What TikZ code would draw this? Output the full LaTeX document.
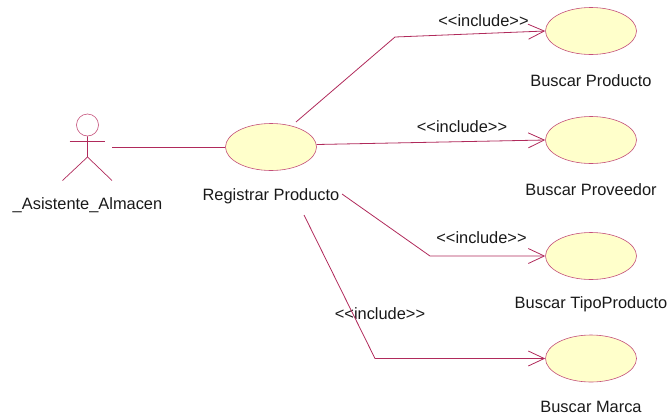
\documentclass[tikz,border=0pt]{standalone}
\usepackage{fontspec}
\setmainfont{Liberation Sans}
\usetikzlibrary{shapes.geometric,arrows.meta}
\definecolor{umlline}{HTML}{B02A5B}
\definecolor{umledge}{HTML}{C4507A}
\definecolor{umlfill}{HTML}{FFFFCB}
\tikzset{
  usecase/.style={ellipse,draw=umledge,fill=umlfill,line width=0.6pt,minimum width=91pt,minimum height=47pt,inner sep=0pt},
  lbl/.style={inner sep=0pt,font=\fontsize{16.4}{18}\selectfont,text=black!90},
  conn/.style={draw=umlline,line width=0.8pt},
  incl/.style={conn,-{Straight Barb[length=16pt,width=15pt,line width=0.8pt]}},
  actorline/.style={draw=umlline,line width=0.7pt}
}
\begin{document}
\begin{tikzpicture}[x=1pt,y=-1pt]
\useasboundingbox (0,0) rectangle (668,418);
\node[usecase] (main) at (271,147) {};
\node[usecase] (u1) at (591,31) {};
\node[usecase] (u2) at (591,140) {};
\node[usecase] (u3) at (591,256) {};
\node[usecase] (u4) at (591,358.5) {};
\node[lbl] (lmain) at (271,196) {Registrar Producto};
\node[lbl] (l1) at (591,81) {Buscar Producto};
\node[lbl] (l2) at (591,190) {Buscar Proveedor};
\node[lbl] (l3) at (591,304) {Buscar TipoProducto};
\node[lbl] (l4) at (591,407) {Buscar Marca};
\node[lbl] (lactor) at (87.5,205) {\_Asistente\_Almacen};
\node[lbl] (i1) at (483.5,21) {<{}<include>{}>};
\node[lbl] (i2) at (462,127) {<{}<include>{}>};
\node[lbl] (i3) at (481.5,238) {<{}<include>{}>};
\node[lbl] (i4) at (380,314) {<{}<include>{}>};
% actor
\node[circle,draw=umledge,line width=0.6pt,minimum size=22pt,inner sep=0pt] (head) at (87.5,125) {};
\coordinate (hip) at (87.5,157);
\coordinate (armL) at (69.5,141.7);
\coordinate (armR) at (105,141.7);
\coordinate (footL) at (62.5,180.5);
\coordinate (footR) at (112,180.5);
\draw[actorline] (head.south) -- (hip) -- (footL);
\draw[actorline] (hip) -- (footR);
\draw[actorline] (armL) -- (armR);
% connectors
\coordinate (actorEnd) at (112,147);
\coordinate (s1) at (296,122);
\coordinate (b1) at (395,37);
\coordinate (s2) at (316.5,144.5);
\coordinate (s3) at (342,194);
\coordinate (b3) at (430,256);
\coordinate (s4) at (304,215);
\coordinate (b4) at (375,358.5);
\draw[conn] (actorEnd) -- (main.west);
\draw[incl] (s1) -- (b1) -- (u1.west);
\draw[incl] (s2) -- (u2.west);
\draw[incl] (s3) -- (b3) -- (u3.west);
\draw[incl] (s4) -- (b4) -- (u4.west);
\end{tikzpicture}
\end{document}
